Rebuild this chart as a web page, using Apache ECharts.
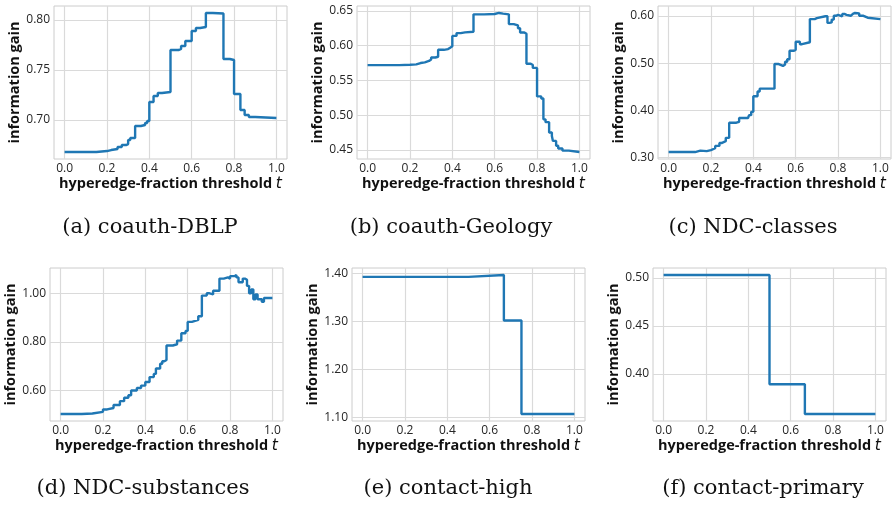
<!DOCTYPE html>
<html>
<head>
<meta charset="utf-8">
<script src="https://cdn.jsdelivr.net/npm/echarts@6/dist/echarts.min.js"></script>
<style>html,body{margin:0;padding:0;background:#fff}#c{width:893px;height:505px}</style>
</head>
<body>
<div id="c"></div>
<script>
// ---- data (step functions: value holds from t until next t) ----
const captions = ['(a) coauth-DBLP', '(b) coauth-Geology', '(c) NDC-classes', '(d) NDC-substances', '(e) contact-high', '(f) contact-primary'];
const xTicks = [0, 0.2, 0.4, 0.6, 0.8, 1.0];

const aT = [0, 0.15, 0.2, 0.22, 0.25, 0.27, 0.29, 0.3, 0.31, 0.333, 0.36, 0.38, 0.39, 0.4, 0.42, 0.44, 0.46, 0.5, 0.54, 0.55, 0.57, 0.6, 0.62, 0.64, 0.667, 0.7, 0.75, 0.78, 0.8, 0.83, 0.85, 0.87, 0.9, 1.0];
const aG = [0.668, 0.669, 0.670, 0.671, 0.673, 0.675, 0.676, 0.680, 0.682, 0.694, 0.695, 0.697, 0.699, 0.718, 0.724, 0.727, 0.728, 0.770, 0.771, 0.774, 0.779, 0.789, 0.792, 0.793, 0.807, 0.8065, 0.761, 0.760, 0.726, 0.710, 0.705, 0.703, 0.702, 0.702];
const aY = [0.70, 0.75, 0.80];

const bT = [0, 0.15, 0.2, 0.23, 0.25, 0.27, 0.29, 0.3, 0.32, 0.333, 0.36, 0.38, 0.39, 0.4, 0.42, 0.44, 0.46, 0.5, 0.55, 0.6, 0.62, 0.64, 0.667, 0.69, 0.71, 0.72, 0.74, 0.75, 0.77, 0.78, 0.8, 0.82, 0.83, 0.84, 0.857, 0.87, 0.875, 0.89, 0.9, 0.92, 0.95, 1.0];
const bG = [0.572, 0.5725, 0.573, 0.575, 0.576, 0.578, 0.580, 0.583, 0.584, 0.594, 0.595, 0.597, 0.599, 0.614, 0.618, 0.619, 0.620, 0.645, 0.6455, 0.647, 0.646, 0.645, 0.631, 0.629, 0.625, 0.619, 0.617, 0.574, 0.572, 0.568, 0.527, 0.524, 0.494, 0.490, 0.475, 0.470, 0.463, 0.456, 0.452, 0.449, 0.447, 0.447];
const bY = [0.45, 0.50, 0.55, 0.60, 0.65];

const cT = [0, 0.125, 0.15, 0.18, 0.2, 0.22, 0.24, 0.25, 0.27, 0.286, 0.32, 0.333, 0.36, 0.375, 0.38, 0.39, 0.4, 0.42, 0.43, 0.5, 0.52, 0.54, 0.55, 0.56, 0.571, 0.59, 0.6, 0.62, 0.63, 0.667, 0.69, 0.7, 0.74, 0.75, 0.76, 0.77, 0.78, 0.79, 0.8, 0.82, 0.83, 0.84, 0.86, 0.87, 0.88, 0.9, 0.92, 0.94, 1.0];
const cG = [0.312, 0.315, 0.314, 0.316, 0.320, 0.325, 0.331, 0.335, 0.342, 0.374, 0.376, 0.384, 0.384, 0.382, 0.390, 0.397, 0.430, 0.440, 0.446, 0.498, 0.494, 0.497, 0.503, 0.508, 0.526, 0.528, 0.545, 0.540, 0.544, 0.593, 0.595, 0.599, 0.599, 0.585, 0.586, 0.592, 0.600, 0.602, 0.599, 0.604, 0.602, 0.600, 0.604, 0.606, 0.605, 0.600, 0.596, 0.593, 0.592];
const cY = [0.30, 0.40, 0.50, 0.60];

const dT = [0, 0.1, 0.15, 0.2, 0.22, 0.25, 0.28, 0.3, 0.32, 0.333, 0.36, 0.38, 0.4, 0.42, 0.44, 0.45, 0.47, 0.48, 0.49, 0.5, 0.53, 0.55, 0.57, 0.59, 0.6, 0.62, 0.65, 0.667, 0.69, 0.7, 0.72, 0.74, 0.75, 0.77, 0.79, 0.8, 0.82, 0.83, 0.84, 0.86, 0.87, 0.88, 0.89, 0.9, 0.91, 0.92, 0.93, 0.95, 0.96, 1.0];
const dG = [0.503, 0.505, 0.512, 0.522, 0.528, 0.540, 0.556, 0.570, 0.580, 0.600, 0.610, 0.620, 0.635, 0.655, 0.668, 0.690, 0.710, 0.720, 0.725, 0.785, 0.790, 0.805, 0.835, 0.845, 0.882, 0.890, 0.905, 0.990, 1.000, 0.995, 1.010, 1.010, 1.060, 1.065, 1.060, 1.070, 1.075, 1.065, 1.045, 1.060, 1.055, 1.030, 1.000, 1.015, 0.975, 0.995, 0.975, 0.965, 0.980, 0.978];
const dY = [0.60, 0.80, 1.00];

const eT = [0, 0.5, 0.667, 0.75, 1.0];
const eG = [1.393, 1.397, 1.302, 1.107, 1.107];
const eY = [1.10, 1.20, 1.30, 1.40];

const fT = [0, 0.5, 0.667, 1.0];
const fG = [0.503, 0.389, 0.358, 0.358];
const fY = [0.40, 0.45, 0.50];

// ---- layout ----
const panels = [
  {t: aT, g: aG, y: aY, box: [54, 6], cap: [150, 228]},
  {t: bT, g: bG, y: bY, box: [357, 6], cap: [451, 228]},
  {t: cT, g: cG, y: cY, box: [658, 6], cap: [753, 228]},
  {t: dT, g: dG, y: dY, box: [50, 268], cap: [143, 489]},
  {t: eT, g: eG, y: eY, box: [352, 268], cap: [448, 489]},
  {t: fT, g: fG, y: fY, box: [653, 268], cap: [763, 489]}
];
const W = 233, H = 153;
const tickFont = 'Open Sans';
const titleFont = 'Open Sans';

const grid = [], xAxis = [], yAxis = [], series = [], graphic = [];
panels.forEach((p, i) => {
  grid.push({left: p.box[0], top: p.box[1], width: W, height: H, show: true,
    borderColor: '#cccccc', borderWidth: 1, backgroundColor: '#fff'});
  xAxis.push({type: 'value', gridIndex: i, min: -0.05, max: 1.05,
    axisLine: {show: false}, axisTick: {show: false, customValues: xTicks},
    axisLabel: {customValues: xTicks, formatter: v => v.toFixed(1), color: '#262626', fontSize: 12, fontFamily: tickFont, margin: 4},
    splitLine: {show: true, lineStyle: {color: '#dadada', width: 1.2}},
    name: '{n|hyperedge-fraction threshold }{t|t}', nameLocation: 'middle', nameGap: 17,
    nameTextStyle: {rich: {
      n: {fontFamily: titleFont, fontWeight: 'bold', fontSize: 14.5, color: '#111'},
      t: {fontFamily: 'DejaVu Sans', fontStyle: 'italic', fontSize: 15.5, color: '#111'}
    }}
  });
  yAxis.push({type: 'value', gridIndex: i,
    min: v => v.min - 0.05 * (v.max - v.min), max: v => v.max + 0.05 * (v.max - v.min),
    axisLine: {show: false}, axisTick: {show: false, customValues: p.y},
    axisLabel: {customValues: p.y, formatter: v => v.toFixed(2), color: '#262626', fontSize: 12, fontFamily: tickFont, margin: 4},
    splitLine: {show: true, lineStyle: {color: '#dadada', width: 1.2}},
    name: 'information gain', nameLocation: 'middle', nameGap: 29,
    nameTextStyle: {fontFamily: titleFont, fontWeight: 'bold', fontSize: 14.5, color: '#111'}
  });
  series.push({type: 'line', xAxisIndex: i, yAxisIndex: i, step: 'end', showSymbol: false,
    data: p.t.map((t, k) => [t, p.g[k]]),
    lineStyle: {color: '#1f77b4', width: 2.4}, animation: false});
  graphic.push({type: 'text', x: p.cap[0], y: p.cap[1],
    style: {text: captions[i], font: '21px "DejaVu Serif"', fill: '#111', align: 'center', verticalAlign: 'middle'}});
});

const chart = echarts.init(document.getElementById('c'), null, {renderer: 'canvas'});
chart.setOption({animation: false, grid, xAxis, yAxis, series, graphic});
</script>
</body>
</html>
